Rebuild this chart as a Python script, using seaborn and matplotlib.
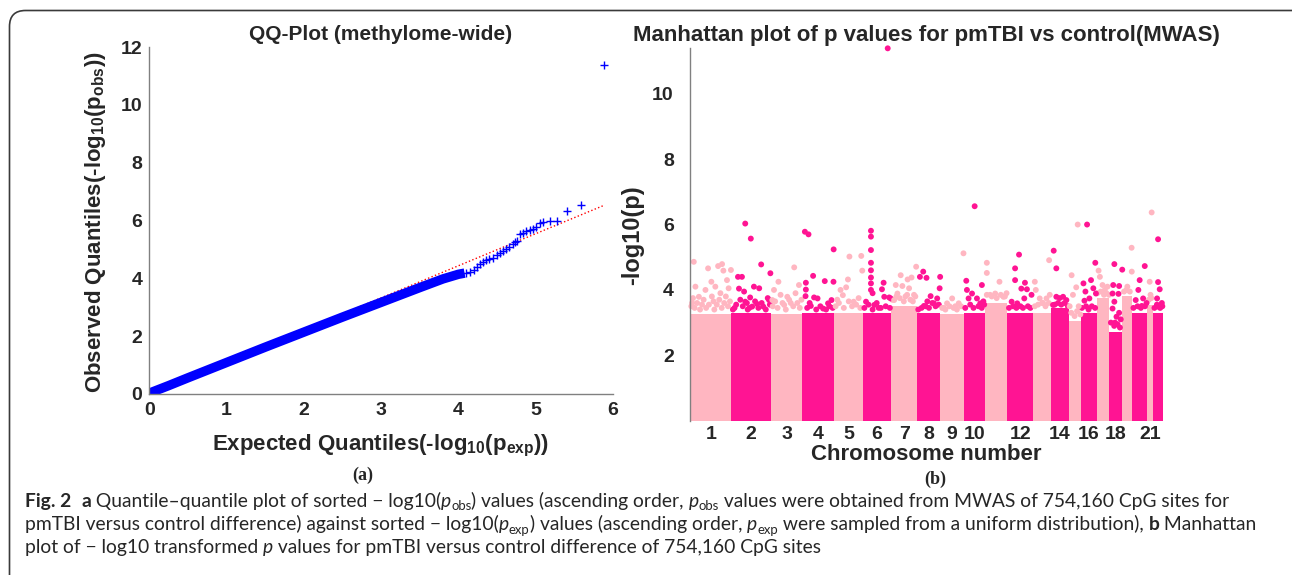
import numpy as np
import pandas as pd
import matplotlib
matplotlib.use("Agg")
import matplotlib.pyplot as plt
import seaborn as sns
from matplotlib.patches import FancyBboxPatch

# ---------------- data: QQ plot ----------------
qq_exp_body = [0.0, 0.25, 0.5, 1.0, 1.5, 2.0, 2.5, 3.0, 3.5, 3.8, 4.0, 4.08]
qq_obs_body = [0.03, 0.29, 0.56, 1.09, 1.62, 2.14, 2.66, 3.17, 3.68, 3.98, 4.14, 4.18]
qq_exp_tail = [4.10, 4.15, 4.20, 4.24, 4.28, 4.32, 4.36, 4.40, 4.45, 4.50, 4.54, 4.58,
               4.62, 4.66, 4.70, 4.73, 4.76, 4.80, 4.84, 4.88, 4.92, 4.96, 5.01, 5.05,
               5.10, 5.19, 5.28, 5.41, 5.58, 5.88]
qq_obs_tail = [4.20, 4.23, 4.30, 4.38, 4.48, 4.58, 4.62, 4.66, 4.72, 4.80, 4.87, 4.95,
               5.02, 5.10, 5.18, 5.24, 5.30, 5.52, 5.56, 5.62, 5.66, 5.72, 5.78, 5.92,
               5.95, 5.97, 5.97, 6.33, 6.53, 11.38]
fit_x = [0.0, 5.88]
fit_y = [0.0, 6.52]

# ---------------- data: Manhattan plot ----------------
chr_len_mb = [248, 242, 190, 193, 175, 175, 153, 145, 141, 131, 135, 157,
              111, 106, 75, 94, 77, 80, 57, 94, 34, 62]
chr_dense_top = [3.25, 3.28, 3.25, 3.3, 3.3, 3.28, 3.5, 3.28, 3.25, 3.28, 3.6, 3.3,
                 3.3, 3.45, 3.05, 3.3, 3.75, 2.7, 3.8, 3.3, 3.55, 3.3]
chr_tick_labels = [1, 2, 3, 4, 5, 6, 7, 8, 9, 10, 12, 14, 16, 18, 21]

# individual (sparse) points above the dense mass
man_chr = [1]*18 + [2]*19 + [3]*11 + [4]*15 + [5]*10 + [6]*18 + [7]*11 + [8]*10 + \
          [9]*6 + [10]*9 + [11]*7 + [12]*10 + [13]*7 + [14]*7 + [15]*6 + [16]*9 + \
          [17]*5 + [18]*12 + [19]*3 + [20]*7 + [21]*3 + [22]*6
man_pos = [20, 107, 168, 192, 200, 246, 30, 127, 91, 151, 222, 51, 182, 10, 232, 70, 140, 205,
           85, 119, 182, 238, 41, 65, 47, 78, 138, 170, 115, 127, 85, 222, 195, 157, 230, 20, 100,
           141, 45, 170, 18, 58, 99, 149, 8, 80, 120, 185,
           16, 38, 191, 66, 137, 190, 22, 22, 20, 72, 93, 52, 157, 178, 127,
           94, 166, 85, 172, 54, 74, 120, 20, 150, 40,
           50, 50, 50, 50, 50, 50, 127, 117, 131, 161, 170, 20, 70, 97, 152, 50, 50, 60,
           56, 122, 98, 26, 66, 107, 150, 36, 137, 16, 85,
           40, 20, 60, 143, 140, 85, 125, 44, 105, 65,
           40, 71, 111, 140, 90, 20,
           67, 16, 20, 111, 51, 81, 30, 101, 120,
           10, 10, 87, 61, 111, 30, 130,
           71, 47, 47, 107, 119, 85, 103, 26, 60, 147,
           10, 16, 101, 81, 40, 97, 60,
           14, 30, 30, 71, 91, 10, 50,
           17, 45, 54, 25, 60, 5,
           36, 86, 14, 60, 74, 26, 90, 50, 20,
           12, 20, 36, 66, 50,
           31, 79, 24, 60, 20, 56, 31, 20, 44, 35, 60, 70,
           57, 56, 30,
           79, 48, 40, 69, 61, 24, 90,
           27, 15, 20,
           32, 32, 42, 26, 40, 55]
man_val = [4.86, 4.66, 4.73, 4.79, 4.59, 4.61, 4.10, 4.25, 4.00, 4.10, 4.30, 3.79, 3.90, 3.60, 4.05, 3.55, 3.65, 3.60,
           6.03, 5.57, 4.78, 4.51, 4.40, 4.40, 4.04, 3.95, 4.10, 4.05, 3.77, 3.49, 3.64, 3.75, 3.49, 3.57, 3.69, 3.45, 3.40,
           4.69, 4.25, 4.15, 4.00, 3.85, 3.79, 3.90, 3.69, 3.54, 3.60, 3.70,
           5.78, 5.70, 5.24, 4.43, 4.27, 4.25, 4.22, 4.01, 3.81, 3.77, 3.74, 3.51, 3.59, 3.69, 3.43,
           5.02, 5.04, 4.32, 4.59, 3.84, 4.08, 3.64, 3.70, 3.75, 4.00,
           5.81, 5.63, 5.22, 4.83, 4.38, 4.20, 4.22, 4.02, 3.79, 3.77, 3.74, 3.64, 3.54, 3.45, 11.39, 4.60, 4.00, 3.90,
           4.45, 4.38, 4.32, 4.15, 4.12, 4.05, 4.71, 3.89, 3.85, 3.69, 3.80,
           4.56, 4.40, 4.37, 4.40, 4.05, 3.81, 3.74, 3.51, 3.59, 3.65,
           3.59, 3.74, 3.59, 5.12, 3.50, 3.45,
           6.56, 4.28, 4.00, 4.15, 3.89, 3.74, 3.74, 3.59, 3.65,
           4.52, 4.83, 4.25, 3.89, 3.79, 3.85, 3.90,
           5.08, 4.66, 4.30, 4.22, 4.02, 4.04, 3.74, 3.64, 3.59, 3.85,
           4.25, 4.00, 3.85, 3.74, 3.74, 4.91, 3.60,
           5.20, 4.66, 3.79, 3.79, 3.69, 3.54, 3.75,
           4.45, 4.08, 6.00, 3.85, 3.50, 3.50,
           6.00, 4.83, 4.20, 4.30, 4.05, 3.95, 3.89, 3.74, 3.67,
           4.59, 4.40, 4.15, 4.10, 4.00,
           4.79, 4.62, 4.15, 4.12, 3.89, 3.88, 3.64, 3.43, 3.18, 3.00, 3.30, 3.10,
           4.56, 5.29, 4.10,
           4.73, 4.30, 4.00, 3.74, 3.51, 3.69, 3.60,
           6.37, 4.25, 3.85,
           5.55, 4.24, 4.02, 3.74, 3.47, 3.60]

# points on the ragged upper edge of the dense mass
fringe_chr = [1]*16 + [2]*11 + [3]*9 + [4]*7 + [5]*7 + [6]*7 + [7]*8 + [8]*7 + [9]*6 + \
             [10]*6 + [11]*5 + [12]*7 + [13]*5 + [14]*5 + [15]*4 + [16]*5 + [17]*5 + \
             [18]*4 + [19]*3 + [20]*4 + [21]*2 + [22]*4
fringe_pos = [5, 15, 25, 40, 58, 80, 95, 112, 130, 145, 160, 175, 190, 215, 228, 240,
              10, 30, 55, 70, 95, 110, 145, 165, 185, 210, 235,
              10, 25, 40, 70, 90, 110, 135, 160, 175,
              30, 45, 85, 110, 145, 165, 185,
              10, 30, 60, 90, 110, 135, 160,
              10, 35, 60, 85, 110, 140, 165,
              5, 30, 50, 75, 95, 115, 130, 145,
              10, 30, 55, 75, 95, 115, 135,
              10, 30, 55, 80, 100, 125,
              10, 40, 60, 90, 110, 125,
              10, 40, 70, 95, 120,
              10, 35, 55, 80, 95, 125, 140,
              10, 30, 55, 75, 95,
              20, 40, 60, 80, 100,
              15, 35, 50, 70,
              5, 30, 45, 65, 85,
              5, 25, 45, 60, 75,
              10, 30, 50, 65,
              10, 25, 45,
              10, 35, 55, 80,
              10, 25,
              10, 25, 45, 58]
fringe_val = [3.50, 3.75, 3.45, 3.60, 3.40, 3.70, 3.45, 3.55, 3.80, 3.40, 3.55, 3.70, 3.45, 3.80, 3.50, 3.65,
              3.40, 3.55, 3.70, 3.50, 3.60, 3.45, 3.65, 3.45, 3.60, 3.40, 3.55,
              3.50, 3.65, 3.45, 3.60, 3.40, 3.70, 3.50, 3.60, 3.45,
              3.45, 3.60, 3.40, 3.50, 3.40, 3.50, 3.45,
              3.50, 3.60, 3.45, 3.65, 3.50, 3.55, 3.45,
              3.45, 3.55, 3.40, 3.60, 3.45, 3.50, 3.45,
              3.70, 3.80, 3.75, 3.65, 3.85, 3.70, 3.65, 3.80,
              3.40, 3.45, 3.50, 3.45, 3.60, 3.50, 3.55,
              3.45, 3.40, 3.50, 3.45, 3.40, 3.50,
              3.45, 3.55, 3.45, 3.50, 3.45, 3.55,
              3.85, 3.80, 3.75, 3.85, 3.80,
              3.45, 3.50, 3.45, 3.50, 3.45, 3.50, 3.45,
              3.50, 3.55, 3.60, 3.50, 3.60,
              3.55, 3.60, 3.55, 3.60, 3.50,
              3.30, 3.20, 3.35, 3.25,
              3.45, 3.50, 3.40, 3.50, 3.45,
              3.90, 3.95, 3.85, 3.90, 3.85,
              3.00, 2.90, 2.95, 2.85,
              3.95, 4.00, 3.95,
              3.45, 3.50, 3.45, 3.50,
              3.70, 3.75,
              3.45, 3.55, 3.45, 3.50]

# ---------------- style ----------------
sns.set_style("white")
plt.rcParams["font.family"] = ["Liberation Sans", "DejaVu Sans"]
plt.rcParams["mathtext.fontset"] = "custom"
plt.rcParams["mathtext.rm"] = "Liberation Sans"
plt.rcParams["mathtext.bf"] = "Liberation Sans:bold"
plt.rcParams["mathtext.it"] = "Liberation Sans:italic"

LIGHT = "#ffb6c1"
DARK = "#ff1493"
GRAY = "#808080"
W, H = 1292, 575

fig = plt.figure(figsize=(W / 100, H / 100), dpi=100)
fig.patch.set_facecolor("white")


def fx(x):
    return x / W


def fy(y):
    return 1 - y / H


# ---------------- QQ plot ----------------
axL = fig.add_axes([fx(149.3), fy(394), (613 - 149.3) / W, (394 - 47) / H])
sns.lineplot(x=fit_x, y=fit_y, ax=axL, color="red", linestyle=":", linewidth=1.0, zorder=1)
sns.lineplot(x=qq_exp_body, y=qq_obs_body, ax=axL, color="#0000ff", linewidth=6.8,
             estimator=None, sort=False, zorder=2, solid_capstyle="butt")
sns.scatterplot(x=qq_exp_tail, y=qq_obs_tail, ax=axL, marker="+", color="#0000ff",
                s=32, linewidth=1.0, zorder=3, clip_on=False)
axL.set_xlim(0, 6)
axL.set_ylim(0, 12)
axL.set_xticks(range(0, 7), [str(v) for v in range(0, 7)], fontweight="bold", fontsize=14)
axL.set_yticks(range(0, 13, 2), [str(v) for v in range(0, 13, 2)], fontweight="bold", fontsize=14)
axL.tick_params(axis="x", direction="in", length=5, color=GRAY, pad=6)
axL.tick_params(axis="y", direction="in", length=5, color=GRAY, pad=5)
for s in ["top", "right"]:
    axL.spines[s].set_visible(False)
for s in ["left", "bottom"]:
    axL.spines[s].set_color(GRAY)
    axL.spines[s].set_linewidth(1.0)
axL.set_xlabel("")
axL.set_ylabel("")

# ---------------- Manhattan plot ----------------
axR = fig.add_axes([fx(690.5), fy(420.7), (1163 - 690.5) / W, (420.7 - 48) / H])
chr_len = np.array(chr_len_mb, dtype=float)
starts = np.concatenate([[0.0], np.cumsum(chr_len)[:-1]])
band_colors = [LIGHT if i % 2 == 0 else DARK for i in range(len(chr_len))]
axR.bar(starts, chr_dense_top, width=chr_len, align="edge", color=band_colors,
        linewidth=0, zorder=1)
df = pd.DataFrame({"chr": fringe_chr + man_chr,
                   "pos": fringe_pos + man_pos,
                   "val": fringe_val + man_val})
df["x"] = starts[df["chr"].to_numpy() - 1] + df["pos"]
df["shade"] = np.where(df["chr"] % 2 == 1, "light", "dark")
sns.scatterplot(data=df, x="x", y="val", hue="shade", palette={"light": LIGHT, "dark": DARK},
                s=18, linewidth=0, legend=False, ax=axR, zorder=2, clip_on=False)
axR.set_xlim(0, chr_len.sum())
axR.set_ylim(0, 11.4)
centers = starts + chr_len / 2
axR.set_xticks([centers[c - 1] for c in chr_tick_labels], [str(c) for c in chr_tick_labels],
               fontweight="bold", fontsize=14)
axR.set_yticks([2, 4, 6, 8, 10], ["2", "4", "6", "8", "10"], fontweight="bold", fontsize=14)
axR.tick_params(axis="x", length=0, pad=4)
axR.tick_params(axis="y", direction="out", length=9, color=GRAY, pad=3)
for s in ["top", "right", "bottom"]:
    axR.spines[s].set_visible(False)
axR.spines["left"].set_color(GRAY)
axR.spines["left"].set_linewidth(1.0)
axR.set_xlabel("")
axR.set_ylabel("")

# ---------------- titles and labels ----------------
fig.text(fx(381), fy(35), "QQ-Plot (methylome-wide)", ha="center", va="center",
         fontsize=15, fontweight="bold")
fig.text(fx(926), fy(35), "Manhattan plot of p values for pmTBI vs control(MWAS)",
         ha="center", va="center", fontsize=16, fontweight="bold")
fig.text(fx(381), fy(446), r"Expected Quantiles(-log$_{\mathbf{10}}$(p$_{\mathbf{exp}}$))",
         ha="center", va="center", fontsize=16, fontweight="bold")
fig.text(fx(96), fy(222), r"Observed Quantiles(-log$_{\mathbf{10}}$(p$_{\mathbf{obs}}$))",
         ha="center", va="center", rotation=90, fontsize=16, fontweight="bold")
fig.text(fx(926), fy(455), "Chromosome number", ha="center", va="center",
         fontsize=16, fontweight="bold")
fig.text(fx(633), fy(235), "-log10(p)", ha="center", va="center", rotation=90,
         fontsize=17, fontweight="bold")
fig.text(fx(363), fy(475), "(a)", ha="center", va="center", fontsize=13,
         fontweight="bold", family=["Liberation Serif", "DejaVu Serif"])
fig.text(fx(935), fy(479), "(b)", ha="center", va="center", fontsize=13,
         fontweight="bold", family=["Liberation Serif", "DejaVu Serif"])

# ---------------- frame ----------------
frame = FancyBboxPatch((0.095, -0.6), 13.2, 5.645 + 0.6,
                       boxstyle="round,pad=0,rounding_size=0.16",
                       transform=fig.dpi_scale_trans, facecolor="none",
                       edgecolor="#3a3a3a", linewidth=1.2, zorder=-5)
fig.patches.append(frame)

# ---------------- caption ----------------
CAP = ["Lato", "DejaVu Sans"]
renderer = fig.canvas.get_renderer()


def seg_kw(style, size):
    kw = dict(fontsize=size, family=CAP)
    if style == "b":
        kw["fontweight"] = "bold"
    elif style == "i":
        kw["fontstyle"] = "italic"
    elif style == "sub":
        kw["fontsize"] = size * 0.68
    return kw


def measure(txt, kw):
    t1 = fig.text(0, 0, "|" + txt + "|", **kw)
    t2 = fig.text(0, 0, "||", **kw)
    w = t1.get_window_extent(renderer).width - t2.get_window_extent(renderer).width
    t1.remove()
    t2.remove()
    return w


def line_width(segs, size):
    return sum(measure(t, seg_kw(s, size)) for t, s in segs)


def draw_line(segs, x0, yb, size):
    x = x0
    for txt, style in segs:
        kw = seg_kw(style, size)
        dy = 3.5 if style == "sub" else 0
        fig.text(fx(x), fy(yb + dy), txt, va="baseline", ha="left", **kw)
        x += measure(txt, kw)


lines = [
    [("Fig. 2", "b"), ("  ", "n"), ("a", "b"),
     (" Quantile\u2013quantile plot of sorted \u2212 log10(", "n"), ("p", "i"), ("obs", "sub"),
     (") values (ascending order, ", "n"), ("p", "i"), ("obs", "sub"),
     (" values were obtained from MWAS of 754,160 CpG sites for", "n")],
    [("pmTBI versus control difference) against sorted \u2212 log10(", "n"), ("p", "i"),
     ("exp", "sub"), (") values (ascending order, ", "n"), ("p", "i"), ("exp", "sub"),
     (" were sampled from a uniform distribution), ", "n"), ("b", "b"), (" Manhattan", "n")],
    [("plot of \u2212 log10 transformed ", "n"), ("p", "i"),
     (" values for pmTBI versus control difference of 754,160 CpG sites", "n")],
]
base = 12.0
target_total = (1236 - 25) + (1258 - 25) + (812 - 25)
cap_size = base * target_total / sum(line_width(l, base) for l in lines)
for seg, yb in zip(lines, [507, 530, 553]):
    draw_line(seg, 25, yb, cap_size)

fig.savefig("out.png", dpi=100, facecolor="white")
